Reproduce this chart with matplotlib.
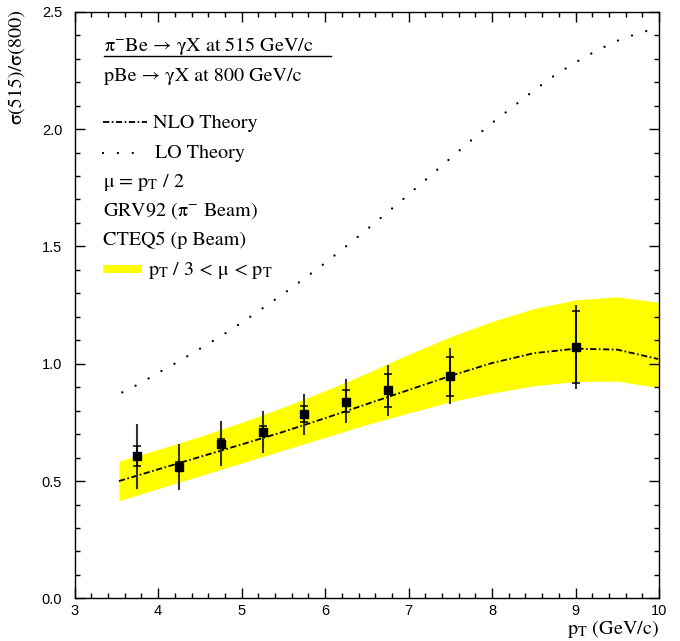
import matplotlib
matplotlib.use("Agg")
import matplotlib.pyplot as plt
from matplotlib.ticker import MultipleLocator
from matplotlib.lines import Line2D
from matplotlib.patches import Rectangle

plt.rcParams['lines.scale_dashes'] = False
plt.rcParams['mathtext.fontset'] = 'custom'
plt.rcParams['mathtext.rm'] = 'STIXGeneral'
plt.rcParams['mathtext.it'] = 'STIXGeneral:italic'
plt.rcParams['mathtext.default'] = 'rm'

serif = ['STIXGeneral', 'Liberation Serif', 'DejaVu Serif']
sans = ['Liberation Sans', 'DejaVu Sans']

# measured ratio sigma(515)/sigma(800)
pt_data = [3.75, 4.25, 4.75, 5.25, 5.75, 6.25, 6.75, 7.5, 9.0]
ratio = [0.605, 0.561, 0.660, 0.710, 0.785, 0.839, 0.887, 0.947, 1.072]
tot_lo = [0.467, 0.460, 0.564, 0.621, 0.696, 0.746, 0.777, 0.828, 0.891]
tot_hi = [0.743, 0.658, 0.757, 0.797, 0.872, 0.933, 0.994, 1.066, 1.250]
stat_lo = [0.563, 0.541, 0.640, 0.690, 0.750, 0.793, 0.817, 0.864, 0.917]
stat_hi = [0.649, 0.581, 0.680, 0.733, 0.818, 0.887, 0.956, 1.030, 1.225]

# NLO theory, mu = pT/2, and the scale band pT/3 < mu < pT
pt_nlo = [3.53, 4.0, 4.5, 5.0, 5.5, 6.0, 6.5, 7.0, 7.5, 8.0, 8.5, 9.0, 9.5, 9.99]
nlo = [0.500, 0.550, 0.603, 0.656, 0.710, 0.768, 0.828, 0.888, 0.948,
       1.003, 1.045, 1.064, 1.060, 1.020]
band_hi = [0.585, 0.635, 0.690, 0.750, 0.815, 0.885, 0.960, 1.040, 1.115,
           1.180, 1.235, 1.272, 1.285, 1.262]
band_lo = [0.416, 0.468, 0.522, 0.577, 0.632, 0.686, 0.741, 0.790, 0.838,
           0.875, 0.906, 0.924, 0.926, 0.898]

# LO theory
pt_lo = [3.57, 3.75, 4.0, 4.25, 4.5, 4.75, 5.0, 5.25, 5.5, 5.75, 6.0, 6.25,
         6.5, 6.75, 7.0, 7.25, 7.5, 7.75, 8.0, 8.25, 8.5, 8.75, 9.0, 9.25,
         9.5, 9.75, 10.0]
lo = [0.878, 0.910, 0.961, 1.011, 1.064, 1.117, 1.175, 1.236, 1.298, 1.363,
      1.429, 1.500, 1.572, 1.646, 1.721, 1.798, 1.875, 1.952, 2.026, 2.095,
      2.164, 2.229, 2.284, 2.334, 2.376, 2.408, 2.432]

W, H = 680, 641
fig = plt.figure(figsize=(W / 100, H / 100), dpi=100)
ax = fig.add_axes([74.7 / W, 1 - 598.4 / H, 584.3 / W, 586.7 / H])

def fx(px):
    return px / W

def fy(py):
    return 1 - py / H

nlo_style = dict(color='k', lw=1.3, ls=(0, (4.5, 1.8, 1.2, 1.8)))
lo_style = dict(color='k', lw=1.7, ls=(0, (0.01, 10.7)),
                dash_capstyle='round')

ax.fill_between(pt_nlo, band_lo, band_hi, color='#ffff00', lw=0)
ax.plot(pt_nlo, nlo, **nlo_style)
ax.plot(pt_lo, lo, **lo_style)

err_tot = [[r - l for r, l in zip(ratio, tot_lo)],
           [h - r for r, h in zip(ratio, tot_hi)]]
err_stat = [[r - l for r, l in zip(ratio, stat_lo)],
            [h - r for r, h in zip(ratio, stat_hi)]]
ax.errorbar(pt_data, ratio, yerr=err_tot, fmt='none', ecolor='0.2',
            elinewidth=1.5, capsize=0)
ax.errorbar(pt_data, ratio, yerr=err_stat, fmt='s', color='k', ms=5.5,
            elinewidth=1.1, capsize=3, capthick=1.1)

ax.set_xlim(3, 10)
ax.set_ylim(0, 2.5)
ax.xaxis.set_major_locator(MultipleLocator(1))
ax.xaxis.set_minor_locator(MultipleLocator(0.2))
ax.yaxis.set_major_locator(MultipleLocator(0.5))
ax.yaxis.set_minor_locator(MultipleLocator(0.1))
ax.yaxis.set_major_formatter(plt.FormatStrFormatter('%.1f'))
ax.tick_params(which='both', direction='in', top=True, right=True,
               width=1.0, labelsize=10.5, labelfontfamily=sans)
ax.tick_params(which='major', length=7)
ax.tick_params(which='minor', length=3.3)
ax.tick_params(axis='x', pad=4)
ax.tick_params(axis='y', pad=9)
for sp in ax.spines.values():
    sp.set_linewidth(1.0)

fs = 14.5
fig.text(fx(16), fy(9), 'σ(515)/σ(800)', rotation=90, ha='center',
         va='top', family=serif, fontsize=fs)
fig.text(fx(659), fy(634), 'p$_{T}$ (GeV/c)', ha='right', va='baseline',
         family=serif, fontsize=fs)

# reaction ratio written as a fraction
fig.text(fx(104), fy(51), 'π$^{-}$Be → γX at 515 GeV/c', ha='left',
         va='baseline', family=serif, fontsize=fs)
fig.add_artist(Line2D([fx(104), fx(331)], [fy(56), fy(56)], color='k',
                      lw=1.0, transform=fig.transFigure))
fig.text(fx(104), fy(81), 'pBe → γX at 800 GeV/c', ha='left',
         va='baseline', family=serif, fontsize=fs)

# key
fig.add_artist(Line2D([fx(103), fx(147)], [fy(122), fy(122)],
                      transform=fig.transFigure, **nlo_style))
fig.text(fx(153), fy(128), 'NLO Theory', ha='left', va='baseline',
         family=serif, fontsize=fs)
fig.add_artist(Line2D([fx(103), fx(140)], [fy(153), fy(153)],
                      transform=fig.transFigure, **lo_style))
fig.text(fx(155), fy(158), 'LO Theory', ha='left', va='baseline',
         family=serif, fontsize=fs)
fig.text(fx(103), fy(187), 'μ = p$_{T}$ / 2', ha='left', va='baseline',
         family=serif, fontsize=fs)
fig.text(fx(103), fy(216), 'GRV92 (π$^{-}$ Beam)', ha='left',
         va='baseline', family=serif, fontsize=fs)
fig.text(fx(103), fy(245), 'CTEQ5 (p Beam)', ha='left', va='baseline',
         family=serif, fontsize=fs)
fig.add_artist(Rectangle((fx(103), fy(273)), fx(142) - fx(103),
                         fy(265) - fy(273), color='#ffff00', lw=0,
                         transform=fig.transFigure))
fig.text(fx(148), fy(275), 'p$_{T}$ / 3 < μ < p$_{T}$', ha='left',
         va='baseline', family=serif, fontsize=fs)

fig.savefig('out.png', dpi=100)
